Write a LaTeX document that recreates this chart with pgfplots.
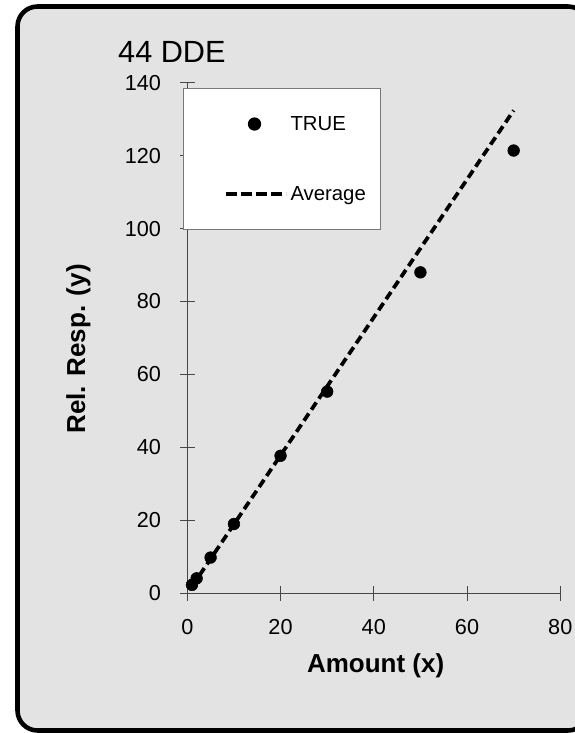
\documentclass[border=0pt]{standalone}
\usepackage{fontspec}
\setmainfont{Liberation Sans}
\usepackage{pgfplots}
\pgfplotsset{compat=1.18}
\definecolor{panelgray}{RGB}{227,227,227}
\definecolor{axisgray}{RGB}{70,70,70}
\definecolor{legendgray}{RGB}{120,120,120}

\begin{document}
\begin{tikzpicture}
% page = 575 x 733 px at 0.75pt/px, axis origin at (0,0)
\useasboundingbox (-140.475pt,-104.775pt) rectangle (290.775pt,444.975pt);
% rounded chart panel
\draw[line width=3.4pt, fill=panelgray, rounded corners=15pt]
  (-127.35pt,-102.9pt) rectangle (300.5pt,440.1pt);
% chart title
\node[anchor=base west, inner sep=0pt, font=\fontsize{23}{27}\selectfont]
  at (-52pt,398.25pt) {44 DDE};
\begin{axis}[
  scale only axis, width=279.75pt, height=382.95pt,
  xmin=0, xmax=80, ymin=0, ymax=140,
  xtick={0,20,...,80}, ytick={0,20,...,140},
  axis lines=left, axis line style={-, axisgray, line width=0.75pt},
  tick style={axisgray, line width=0.75pt}, tick align=center, major tick length=11pt,
  /pgf/number format/assume math mode=true,
  ticklabel style={font=\fontsize{16.25}{19}\selectfont, inner sep=0pt},
  xticklabel style={anchor=north, yshift=-14pt},
  yticklabel style={anchor=east, xshift=-14pt},
  xlabel={Amount (x)},
  ylabel={Rel. Resp. (y)},
  label style={font=\bfseries\fontsize{19.5}{22}\selectfont, inner sep=0pt},
  xlabel style={at={(axis description cs:0.505,-0.1555)}, anchor=base},
  ylabel style={at={(axis description cs:-0.2742,0.4785)}, anchor=base},
  legend style={at={(axis description cs:-0.0115,0.9896)}, anchor=north west,
    draw=legendgray, line width=0.75pt, fill=white,
    inner xsep=0pt, inner ysep=0.375pt, row sep=0pt, column sep=0pt,
    font=\fontsize{15.25}{18}\selectfont,
    nodes={inner sep=0pt, text width=67.5pt}},
  legend cell align=left,
]
\addplot[only marks, mark=*, mark size=4.4pt, black,
  legend image code/.code={
    \path[draw=none, fill=none] (-31.5pt,-26.25pt) rectangle (48.75pt,26.25pt);
    \fill[black] (21.75pt,0pt) circle (4.6pt);}]
  coordinates {(1,2.3) (2,4.1) (5,9.8) (10,19.0) (20,37.7) (30,55.3) (50,88.0) (70,121.4)};
\addlegendentry{TRUE}
\addplot[black, line width=2.8pt, dash pattern=on 6.5pt off 3.5pt, no marks,
  legend image code/.code={
    \path[draw=none, fill=none] (-31.5pt,-26.25pt) rectangle (48.75pt,26.25pt);
    \draw[dash pattern=on 8.25pt off 3pt] (0pt,0pt) -- (45pt,0pt);}]
  coordinates {(1,1.89) (70,132.4)};
\addlegendentry{Average}
\end{axis}
\end{tikzpicture}
\end{document}
